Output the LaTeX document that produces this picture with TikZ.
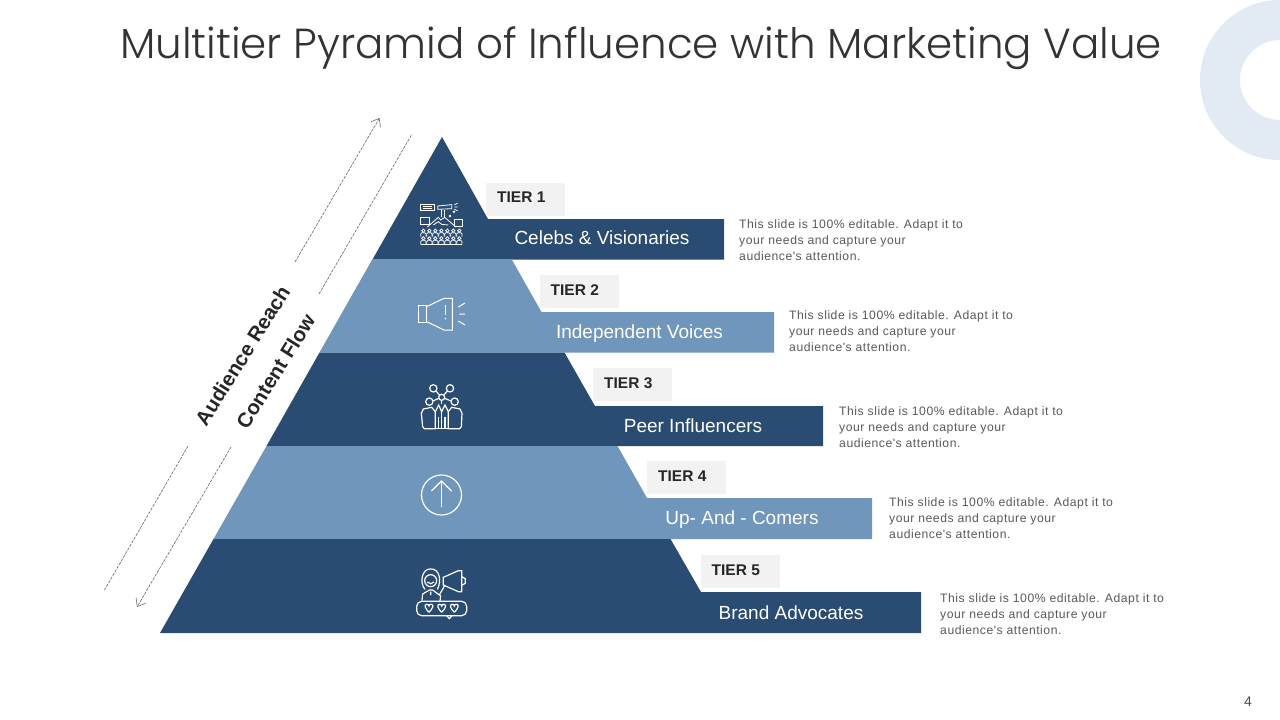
\documentclass[tikz,border=0pt]{standalone}
\usepackage{fontspec}
\usetikzlibrary{arrows.meta}
\setmainfont{Liberation Sans}
\newfontfamily\titlefont{Poppins Light}
\newfontfamily\blurbfont[LetterSpace=4.2]{Liberation Sans}
\definecolor{darktier}{HTML}{2B4C72}
\definecolor{lighttier}{HTML}{7096BC}
\definecolor{ringblue}{HTML}{E2EAF3}
\definecolor{tagfill}{HTML}{F2F2F2}
\newcommand{\heartmark}[3]{
    \draw[iconline,line width=1.2pt] (#1,#2) .. controls (#1-#3,#2-#3) and (#1-1.4*#3,#2-2*#3) .. (#1-0.7*#3,#2-2.2*#3)
    .. controls (#1-0.3*#3,#2-2.3*#3) and (#1,#2-2*#3) .. (#1,#2-1.7*#3)
    .. controls (#1,#2-2*#3) and (#1+0.3*#3,#2-2.3*#3) .. (#1+0.7*#3,#2-2.2*#3)
    .. controls (#1+1.4*#3,#2-2*#3) and (#1+#3,#2-#3) .. (#1,#2);
}
\tikzset{
    iconline/.style={white, line width=0.8pt},
    flowline/.style={black!60, line width=0.6pt, dash pattern=on 3pt off 1.2pt},
    flowarrow/.style={flowline, -{Straight Barb[length=7pt,width=11pt,line width=0.6pt]}},
    flowlabel/.style={font=\fontsize{20.5}{24}\selectfont\bfseries, text=black!85, rotate=58},
    tiertag/.style={fill=tagfill, minimum width=79, minimum height=33, inner sep=0pt},
    tierlabel/.style={font=\fontsize{15.5}{20}\selectfont\bfseries, text=black!85, anchor=west, inner sep=0pt},
    bandlabel/.style={font=\fontsize{19}{22}\selectfont, text=white, anchor=base},
    blurb/.style={font=\blurbfont\fontsize{12.2}{16}\selectfont, text=black!65, align=left, anchor=west, inner sep=0pt}
}
\begin{document}
\begin{tikzpicture}[x=1pt,y=-1pt]
    \useasboundingbox (0,0) rectangle (1280,720);
    \begin{scope}
        \clip (0,0) rectangle (1280,720);
        \fill[ringblue,even odd rule] (1280,80) circle (80) (1280,80) circle (40);
    \end{scope}
    \node[font=\titlefont\fontsize{42}{50}\selectfont, text=black!80, anchor=base] (title) at (641,58.5) {Multitier Pyramid of Influence with Marketing Value};
    \node[font=\fontsize{14}{16}\selectfont, text=black!70] (pagenum) at (1248,702) {4};
    % pyramid
    \fill[darktier] (442,137) -- (488,219) -- (724,219) -- (724,259.5) -- (372.5,259.5) -- cycle;
    \fill[lighttier] (372.5,259) -- (511.5,259) -- (541.5,312) -- (774,312) -- (774,352.5) -- (319.5,352.5) -- cycle;
    \fill[darktier] (319.5,352.5) -- (564.5,352.5) -- (595,406) -- (823,406) -- (823,446) -- (266.5,446) -- cycle;
    \fill[lighttier] (266.5,446) -- (617.5,446) -- (647,498) -- (872,498) -- (872,539) -- (213.5,539) -- cycle;
    \fill[darktier] (213.5,539) -- (670.5,539) -- (701,592) -- (921,592) -- (921,633) -- (160,633) -- cycle;
    \foreach \n/\tagx/\tagy/\bandx/\bandy/\bandname/\blurbx/\blurby in {
        1/525.5/199/602/244.5/Celebs \& Visionaries/739/240.5,
        2/579/291.5/639.5/338/Independent Voices/789/331.5,
        3/632.5/384.5/693/432/Peer Influencers/839/427.5,
        4/686.5/477.5/742/524.5/Up- And - Comers/889/518.5,
        5/740/571.5/791/619/Brand Advocates/940/614.5}
    {
        \node[tiertag] (tag\n) at (\tagx,\tagy) {};
        \node[tierlabel] (tier\n) at ([xshift=-28.5,yshift=1.5]tag\n.center) {TIER \n};
        \node[bandlabel] (band\n) at (\bandx,\bandy) {\bandname};
        \node[blurb] (blurb\n) at (\blurbx,\blurby) {This slide is 100\% editable. Adapt it to\\your needs and capture your\\audience's attention.};
    }
    % flow arrows
    \node[flowlabel] (reach) at (242.5,355.5) {Audience Reach};
    \node[flowlabel] (content) at (275.5,371.5) {Content Flow};
    \coordinate (reachtop) at (379.5,118);
    \coordinate (reachup) at (295,262);
    \coordinate (reachdown) at (188,446);
    \coordinate (reachend) at (104.5,590);
    \coordinate (flowtop) at (412,134);
    \coordinate (flowup) at (319,294);
    \coordinate (flowdown) at (231,447);
    \coordinate (flowend) at (137,607);
    \draw[flowarrow] (reachup) -- (reachtop);
    \draw[flowline] (reachdown) -- (reachend);
    \draw[flowline] (flowup) -- (flowtop);
    \draw[flowarrow] (flowdown) -- (flowend);
    % tier 1 icon
    \begin{scope}[shift={(370,130)},scale=1/3]
        \draw[iconline] (152,222) rectangle (192,240);
        \draw[iconline] (158,229) -- (186,229) (158,234) -- (186,234);
        \draw[iconline] (203,228) -- (245,224) -- (245,236) -- (203,238) -- cycle;
        \draw[iconline] (213,240) -- (213,262) (222,240) -- (222,262);
        \draw[iconline] (253,224) -- (263,220) (253,231) -- (263,231) (253,238) -- (263,242);
        \draw[iconline] (172,291) -- (205,262) -- (212,270) -- (224,262) -- (258,291);
        \draw[iconline] (190,285) -- (205,275) -- (215,283) -- (235,285);
        \draw[iconline] (152,262) rectangle (178,282);
        \draw[iconline] (253,268) rectangle (278,288);
        \draw[iconline] (240,258) circle (2.5) (252,245) circle (2.5);
        \foreach \px in {160,178,196,214,232,250,268}
        \foreach \py in {302,325}
        {
            \draw[iconline] (\px,\py) circle (5);
            \draw[iconline] (\px-8,\py+18) -- (\px-8,\py+10) -- (\px-4,\py+6) -- (\px+4,\py+6) -- (\px+8,\py+10) -- (\px+8,\py+18);
        }
        \draw[iconline] (152,344) -- (276,344);
    \end{scope}
    % tier 2 icon
    \begin{scope}[shift={(370,130)},scale=1/3]
        \draw[iconline,line width=1pt] (145,527) rectangle (170,577);
        \draw[iconline,line width=1pt] (170,530) -- (222,505) -- (247,505) -- (247,600) -- (222,600) -- (170,575);
        \draw[iconline,line width=1pt] (226,525) -- (226,556);
        \fill[white] (226,566) circle (2.5);
        \draw[iconline,line width=1pt] (265,531) -- (285,519) (268,552) -- (285,552) (265,573) -- (285,585);
    \end{scope}
    % tier 3 icon
    \begin{scope}[shift={(380,370)},scale=1/3]
        \draw[iconline,line width=1.2pt] (160,55) circle (11) (210,55) circle (11) (185,82) circle (9) (148,95) circle (11) (224,95) circle (11);
        \draw[iconline,line width=1.2pt] (168,63) -- (179,76) (202,63) -- (191,76) (159,93) -- (176,85) (213,93) -- (194,85);
        \draw[iconline,line width=1.2pt] (185,91) -- (185,103);
        \draw[iconline,line width=1.2pt] (133,176) -- (128,170) -- (124,130) -- (130,117) -- (155,112) -- (166,125) -- (166,176) -- cycle;
        \draw[iconline,line width=1.2pt] (239,176) -- (244,170) -- (246,130) -- (240,117) -- (215,112) -- (205,125) -- (205,176) -- cycle;
        \draw[iconline,line width=1.2pt] (166,125) -- (176,105) -- (185,125) -- (195,105) -- (205,125);
        \draw[iconline,line width=1.2pt] (185,125) -- (185,176) (166,176) -- (205,176);
        \draw[iconline,line width=1.2pt] (176,140) -- (176,176) (195,140) -- (195,176);
    \end{scope}
    % tier 4 icon
    \draw[iconline,line width=1.2pt] (441.5,495) circle (20);
    \draw[iconline,line width=1.2pt] (441.5,507) -- (441.5,481);
    \draw[iconline,line width=1.2pt] (431.5,491) -- (441.5,481) -- (451.5,491);
    % tier 5 icon
    \begin{scope}[shift={(390,550)},scale=1/3]
        \draw[iconline,line width=1.2pt,rounded corners=5pt] (80,154) rectangle (230,197);
        \draw[iconline,line width=1.2pt] (170,197) -- (178,206) -- (186,197);
        \heartmark{117}{187}{11}
        \heartmark{155}{187}{11}
        \heartmark{193}{187}{11}
        \draw[iconline,line width=1.2pt] (122,92) circle (18);
        \draw[iconline,line width=1.2pt] (105,118) .. controls (88,100) and (95,55) .. (122,57) .. controls (150,55) and (155,95) .. (142,118);
        \draw[iconline,line width=1.2pt] (112,96) .. controls (117,103) and (127,103) .. (132,96);
        \draw[iconline,line width=1.2pt] (96,152) -- (98,132) -- (118,120) -- (128,120) -- (148,135) -- (165,105);
        \draw[iconline,line width=1.2pt] (150,154) -- (152,135) (122,125) -- (122,135);
        \draw[iconline,line width=1.2pt] (160,82) -- (205,62) -- (215,62) -- (215,125) -- (205,125) -- (160,105) -- cycle;
        \draw[iconline,line width=1.2pt] (215,80) -- (226,86) -- (226,100) -- (215,106);
    \end{scope}
\end{tikzpicture}
\end{document}
